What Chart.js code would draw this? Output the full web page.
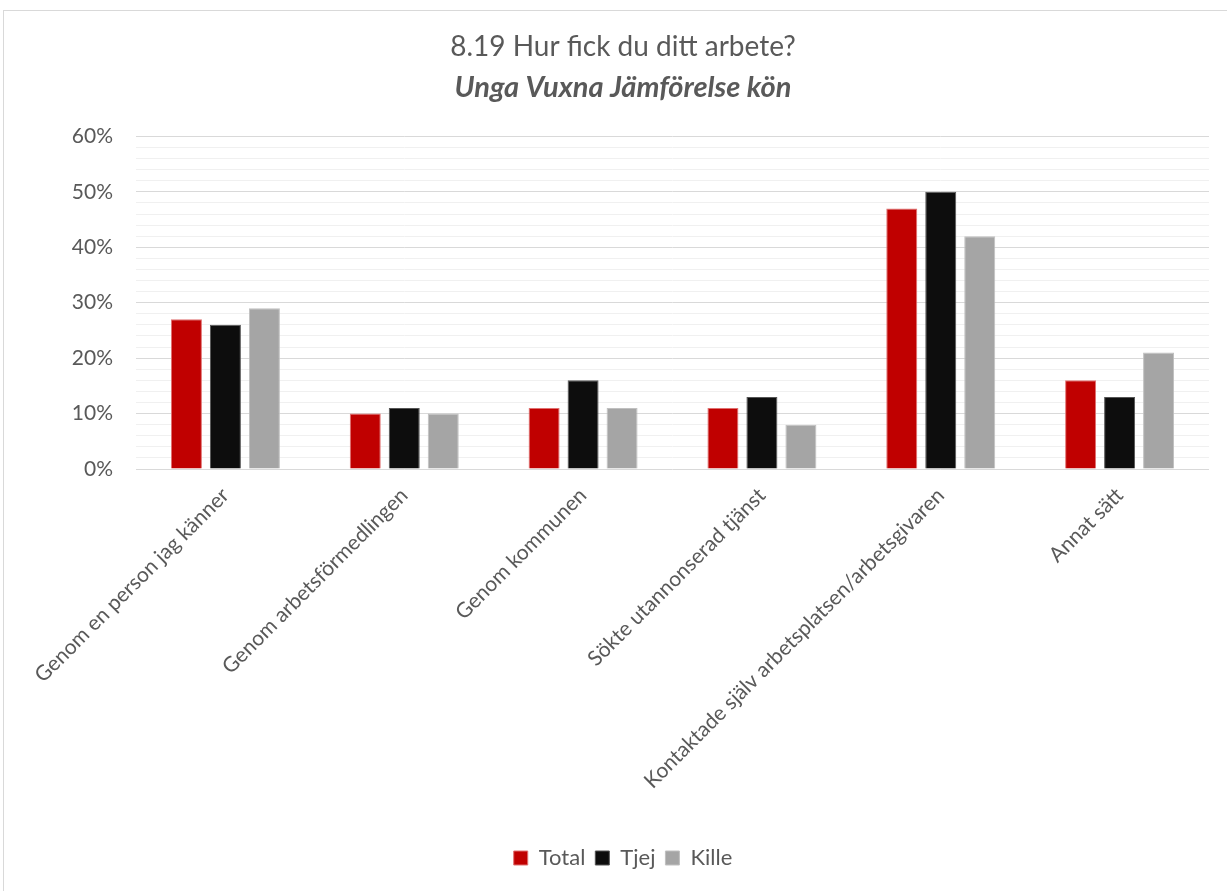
<!DOCTYPE html>
<html>
<head>
<meta charset="utf-8">
<script src="https://cdn.jsdelivr.net/npm/chart.js@4.4.1/dist/chart.umd.min.js"></script>
<style>
body { margin: 0; background: #ffffff; }
#frame { position: absolute; left: 3px; top: 10px; width: 1240px; height: 900px;
	border: 1px solid #d9d9d9; }
#wrap { position: absolute; left: 0px; top: 0px; width: 1227px; height: 891px; }
</style>
</head>
<body>
<div id="frame"></div>
<div id="wrap"><canvas id="chart"></canvas></div>
<script>
// ----------------------------------------------------------------------
//	8.19 Hur fick du ditt arbete?
// ----------------------------------------------------------------------
const labels = [
	"Genom en person jag känner",
	"Genom arbetsförmedlingen",
	"Genom kommunen",
	"Sökte utannonserad tjänst",
	"Kontaktade själv arbetsplatsen/arbetsgivaren",
	"Annat sätt"
	]

const data_total = [27, 10, 11, 11, 47, 16]
const data_tjej  = [26, 11, 16, 13, 50, 13]
const data_kille = [29, 10, 11,  8, 42, 21]

const y_ticks = [0, 10, 20, 30, 40, 50, 60]

const font_name = "Lato, 'Open Sans', sans-serif"
const text_color = '#595959'

// ----------------------------------------------------------------------
function convert01()
{
	const graph_data = {}
	graph_data['labels'] = labels
	graph_data['datasets'] = []

	const unit_aa = { label: "Total", data: data_total,
		backgroundColor: '#c00000', borderColor: '#e07070', borderWidth: 1 }
	const unit_bb = { label: "Tjej", data: data_tjej,
		backgroundColor: '#0d0d0d', borderColor: '#555555', borderWidth: 1 }
	const unit_cc = { label: "Kille", data: data_kille,
		backgroundColor: '#a5a5a5', borderColor: '#c0c0c0', borderWidth: 1 }

	graph_data['datasets'].push(unit_aa)
	graph_data['datasets'].push(unit_bb)
	graph_data['datasets'].push(unit_cc)

	return graph_data
}

// ----------------------------------------------------------------------
function prog01(graph_data)
{
	const options = {
		responsive: true,
		maintainAspectRatio: false,
		animation: false,
		layout: { padding: { left: 37, right: 18, top: 10, bottom: 12 } },
		datasets: { bar: { categoryPercentage: 0.654, barPercentage: 0.795 } },
		plugins: {
			tooltip: { enabled: false },
			title: { display: true, text: "8.19 Hur fick du ditt arbete?",
				color: text_color, padding: { top: 20, bottom: 7 },
				font: { family: font_name, size: 28, weight: 'normal' } },
			subtitle: { display: true, text: "Unga Vuxna Jämförelse kön",
				color: text_color, padding: { top: 0, bottom: 31 },
				font: { family: font_name, size: 29, weight: 'bold', style: 'italic' } },
			legend: { position: 'bottom',
				labels: { color: text_color, boxWidth: 14, boxHeight: 14, padding: 10,
					font: { family: font_name, size: 22 } } }
			},
		scales: {
			x: {
				grid: { display: false },
				border: { display: false },
				ticks: { color: text_color, maxRotation: 45, minRotation: 45,
					autoSkip: false, padding: 6,
					font: { family: font_name, size: 21 } },
				afterFit: function (scale) { scale.height = 368 }
				},
			y: {
				min: 0, max: 60,
				border: { display: false },
				grid: { drawTicks: false,
					color: function (ctx) {
						return (ctx.tick.value % 10 == 0) ? '#d9d9d9' : '#f0f0f0' } },
				ticks: { stepSize: 2, autoSkip: false, padding: 23, color: text_color,
					font: { family: font_name, size: 21 },
					callback: function (value) {
						return y_ticks.includes(value) ? value + '%' : '' } },
				afterFit: function (scale) { scale.width = 99 }
				}
			}
		}

	const config = {
		type: 'bar',
		data: graph_data,
		options: options
		}

	const context = document.getElementById("chart")
	const chart = new Chart(context, config)
}

// ----------------------------------------------------------------------
prog01(convert01())
</script>
</body>
</html>
